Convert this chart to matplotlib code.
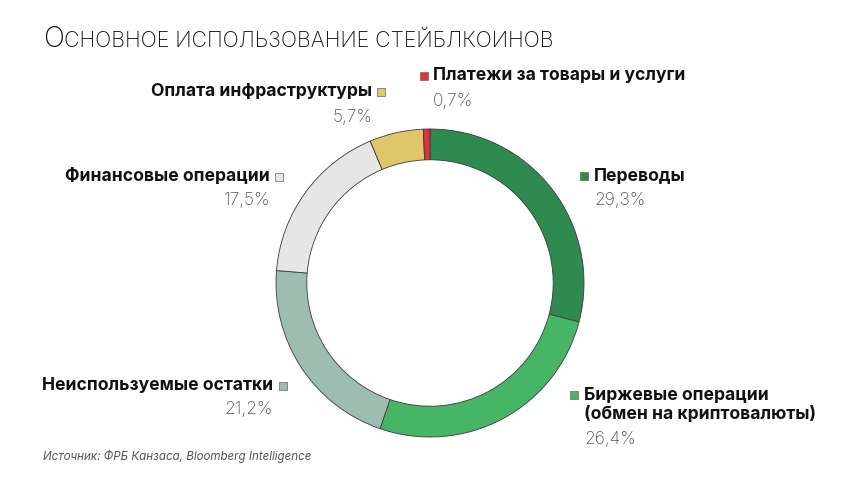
import matplotlib
matplotlib.use("Agg")
import matplotlib.pyplot as plt

plt.rcParams['font.family'] = ['Inter', 'Noto Sans', 'DejaVu Sans']

# data
categories = ["Переводы", "Биржевые операции\n(обмен на криптовалюты)", "Неиспользуемые остатки",
              "Финансовые операции", "Оплата инфраструктуры", "Платежи за товары и услуги"]
values = [29.3, 26.4, 21.2, 17.5, 5.7, 0.7]
value_labels = ["29,3%", "26,4%", "21,2%", "17,5%", "5,7%", "0,7%"]
colors = ["#2f8a50", "#46b666", "#9cbdaf", "#e6e6e6", "#e0c66a", "#e0323c"]

W, H = 860, 484
fig = plt.figure(figsize=(W / 100, H / 100), dpi=100)
fig.patch.set_facecolor("white")

# pie axes
cx, cy, R = 430, 283, 154
pax = fig.add_axes([(cx - R) / W, (H - cy - R) / H, 2 * R / W, 2 * R / H])
pax.pie(values, colors=colors, startangle=90, counterclock=False, radius=1.0,
        wedgeprops=dict(width=0.2, edgecolor="#3a3a3a", linewidth=0.6))
pax.set_xlim(-1.0, 1.0)
pax.set_ylim(-1.0, 1.0)
pax.set_aspect("equal")
pax.axis("off")

# overlay axes in pixel coords
ax = fig.add_axes([0, 0, 1, 1], facecolor="none")
ax.set_xlim(0, W)
ax.set_ylim(H, 0)
ax.axis("off")

# title (small caps look)
ax.text(43, 47, "О", fontsize=20, fontweight="light", color="#111111", va="baseline", ha="left")
ax.text(64, 47, "СНОВНОЕ ИСПОЛЬЗОВАНИЕ СТЕЙБЛКОИНОВ", fontsize=15.3, fontweight="light",
        color="#111111", va="baseline", ha="left")

# label layout: (text x, last-line baseline y, value baseline y, align, marker x, marker y)
layout = [
    (594, 181, 205, "left", 584, 176),
    (584, 419, 444, "left", 574, 395),
    (273, 390, 414, "right", 283, 386),
    (270, 181, 205, "right", 279, 177),
    (372, 96, 122, "right", 381, 92),
    (433, 80, 106, "left", 424, 76),
]
for cat, vl, col, (tx, ny, vy, ha, mx, my) in zip(categories, value_labels, colors, layout):
    ax.text(tx, ny, cat, fontsize=12.6, fontweight="bold", color="#111111", ha=ha,
            va="baseline", linespacing=1.15)
    ax.text(tx, vy, vl, fontsize=12.5, fontweight="light", color="#555555", ha=ha, va="baseline")
    ax.scatter([mx], [my], marker="s", s=38, color=col, edgecolors="#666666", linewidths=0.5)

ax.text(43, 460, "Источник: ФРБ Канзаса, Bloomberg Intelligence", fontsize=8.3, style="italic",
        color="#555555", ha="left", va="baseline")

fig.savefig("out.png", dpi=100, facecolor="white")
